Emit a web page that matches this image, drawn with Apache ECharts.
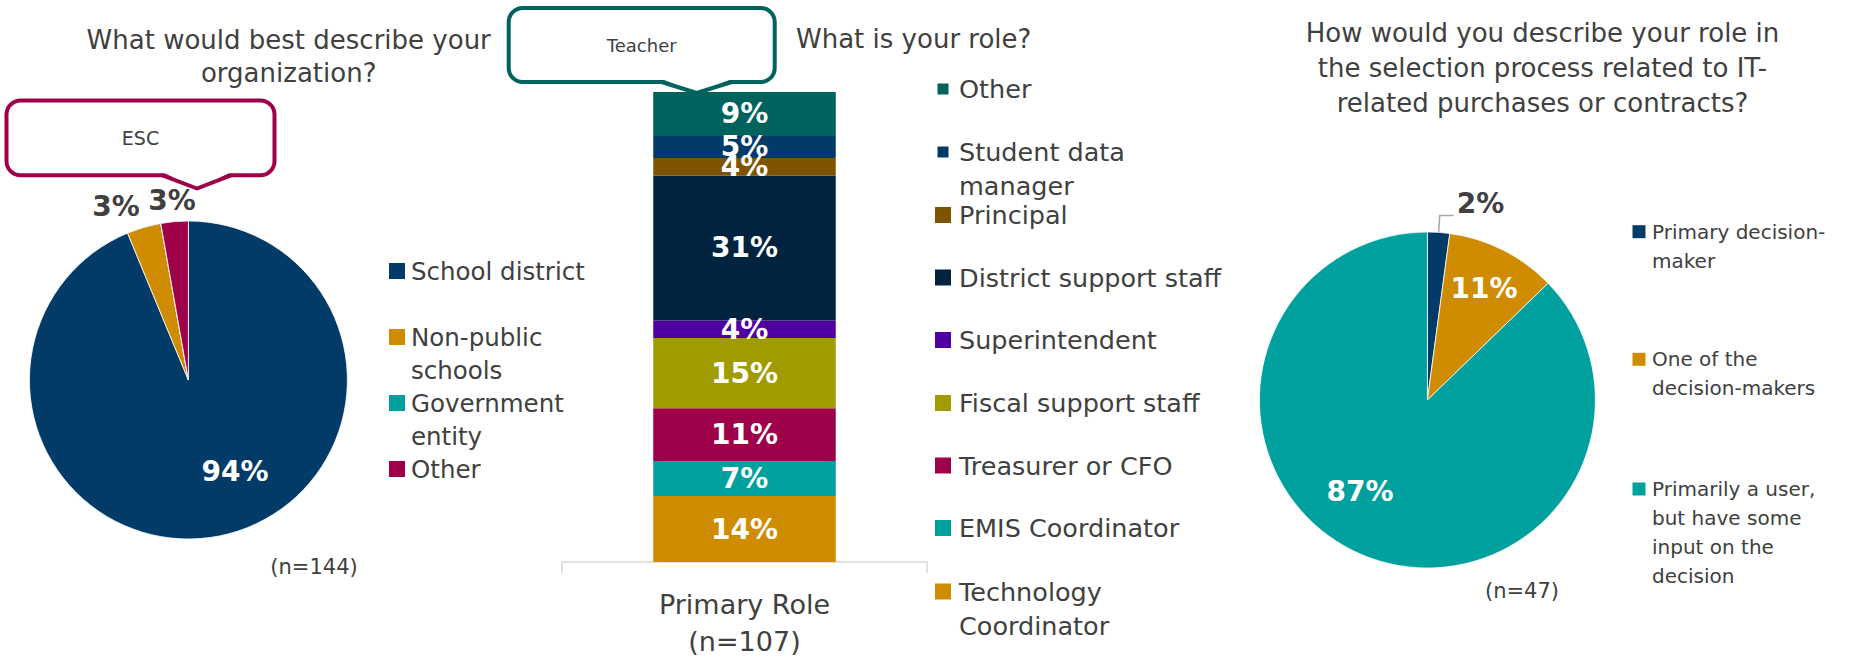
<!DOCTYPE html>
<html>
<head>
<meta charset="utf-8">
<script src="https://cdn.jsdelivr.net/npm/echarts@6/dist/echarts.min.js"></script>
<style>
  html, body { margin: 0; padding: 0; width: 1854px; height: 663px; overflow: hidden; background: #fff; }
  #chart { width: 1854px; height: 663px; }
</style>
</head>
<body>
<div id="chart"></div>
<script>
// ---- Survey responses (counts) ----
const orgTypes = ['School district', 'Non-public\nschools', 'Government\nentity', 'Other'];
const orgCounts = [135, 5, 0, 4];
const orgColors = ['#023b67', '#d08c00', '#00a09e', '#9e004a'];
const orgQuestion = 'What would best describe your\norganization?';
const orgNote = 'ESC';

const roleNames = ['Other', 'Student data\nmanager', 'Principal', 'District support staff', 'Superintendent',
  'Fiscal support staff', 'Treasurer or CFO', 'EMIS Coordinator', 'Technology\nCoordinator'];
const roleCounts = [10, 5, 4, 33, 4, 16, 12, 8, 15];
const roleColors = ['#00625c', '#023b67', '#7f5400', '#022340', '#4f00a0', '#a09c00', '#9e004a', '#00a09e', '#d08c00'];
const roleCategory = 'Primary Role';
const roleQuestion = 'What is your role?';
const roleNote = 'Teacher';

const itRoles = ['Primary decision-\nmaker', 'One of the\ndecision-makers', 'Primarily a user,\nbut have some\ninput on the\ndecision'];
const itCounts = [1, 5, 41];
const itColors = ['#023b67', '#d08c00', '#00a09e'];
const itQuestion = 'How would you describe your role in\nthe selection process related to IT-\nrelated purchases or contracts?';

// ---- shared styling ----
const FONT = '"DejaVu Sans", sans-serif';
const TEXT = '#404040';
const sum = a => a.reduce((s, v) => s + v, 0);
const pct = (v, total) => Math.round(v / total * 100) + '%';

// One legend block per entry so each marker sits beside the first line of its text.
function legendBlocks(names, colors, rows, o) {
  return names.map((name, i) => {
    const n = name.split('\n').length;
    const size = (o.sizes && o.sizes[i]) || o.size;
    const blockH = (2 * n - 1) * o.lineHeight;
    const left = o.markerCenter - size[0] / 2;
    const padLeft = Math.max(0, o.textX - (left + size[0] + 5));
    return {
      left: left,
      top: rows[i] - Math.max(blockH, size[1]) / 2,
      padding: 0,
      orient: 'vertical',
      icon: 'rect',
      selectedMode: false,
      itemWidth: size[0],
      itemHeight: size[1],
      itemStyle: { borderWidth: 0 },
      formatter: t => '\n'.repeat(n - 1) + t,
      textStyle: { fontFamily: FONT, fontSize: o.fontSize, lineHeight: o.lineHeight, color: TEXT,
                   padding: [0, 0, 0, padLeft] },
      data: [{ name: name, itemStyle: { color: colors[i] } }]
    };
  });
}

// Speech-bubble note with a downward pointer.
function callout(box, tip, color, label, fontSize) {
  const yb = box.y + box.h;
  return [
    { type: 'rect', z: 100, shape: { x: box.x, y: box.y, width: box.w, height: box.h, r: box.r },
      style: { fill: '#fff', stroke: color, lineWidth: 4 } },
    { type: 'polygon', z: 101, shape: { points: [[tip.x1, yb - 2.6], [tip.x2, yb - 2.6], [tip.tx, tip.ty]] },
      style: { fill: '#fff' } },
    { type: 'polyline', z: 102, shape: { points: [[tip.x1 - 1, yb], [tip.tx, tip.ty], [tip.x2 + 1, yb]] },
      style: { stroke: color, lineWidth: 4, lineJoin: 'round', fill: null } },
    { type: 'text', z: 103, x: box.x + box.w / 2, y: box.y + box.h / 2,
      style: { text: label, fontFamily: FONT, fontSize: fontSize, fill: TEXT,
               align: 'center', textAlign: 'center', verticalAlign: 'middle', textVerticalAlign: 'middle' } }
  ];
}

function textBlock(text, x, y, size, align, vAlign, lineHeight) {
  return { type: 'text', x: x, y: y, z: 50,
    style: { text: text, fontFamily: FONT, fontSize: size, fill: TEXT,
             lineHeight: lineHeight || Math.round(size * 1.3),
             align: align, textAlign: align, verticalAlign: vAlign, textVerticalAlign: vAlign } };
}

const orgTotal = sum(orgCounts);
const roleTotal = sum(roleCounts);
const itTotal = sum(itCounts);

// label anchor points inside / beside the pies
const orgLabelAt = [[235, 471], [116, 206], null, [172, 200]];
const itLabelAt = [null, [1484, 288], [1360, 491]];

const chart = echarts.init(document.getElementById('chart'), null, { renderer: 'svg' });
chart.setOption({
  animation: false,
  grid: { left: 562, top: 92, width: 365, height: 470, outerBoundsMode: 'none' },
  xAxis: {
    type: 'category',
    data: [roleCategory + '\n(n=' + roleTotal + ')'],
    axisLine: { lineStyle: { color: '#d9d9d9', width: 1.5 } },
    axisTick: { show: true, length: 11, lineStyle: { color: '#d9d9d9', width: 1.5 } },
    axisLabel: { fontFamily: FONT, fontSize: 27, lineHeight: 37, color: TEXT, margin: 24 }
  },
  yAxis: { type: 'value', min: 0, max: roleTotal, show: false },
  legend: [].concat(
    legendBlocks(orgTypes, orgColors, [271, 337, 403, 469],
      { markerCenter: 397, textX: 411, size: [16, 16], fontSize: 24.5, lineHeight: 33 }),
    legendBlocks(roleNames, roleColors, [89, 152, 215, 277.5, 340, 403, 465.5, 528, 591.5],
      { markerCenter: 943, textX: 959, size: [16, 16], sizes: [[11, 11], [11, 11]], fontSize: 25.5, lineHeight: 34 }),
    legendBlocks(itRoles, itColors, [231.7, 359.3, 489],
      { markerCenter: 1639, textX: 1652, size: [13, 13], fontSize: 20, lineHeight: 29 })
  ),
  series: [
    {
      // organisation type
      type: 'pie',
      center: [188.4, 380],
      radius: 159,
      startAngle: 90,
      clockwise: true,
      avoidLabelOverlap: false,
      silent: true,
      itemStyle: { borderColor: '#fff', borderWidth: 0.8 },
      label: {
        show: true, position: 'inside', fontFamily: FONT, fontSize: 28, fontWeight: 'bold',
        formatter: p => p.value ? pct(p.value, orgTotal) : ''
      },
      labelLine: { show: false },
      labelLayout: p => {
        const at = orgLabelAt[p.dataIndex];
        return at ? { x: at[0], y: at[1], align: 'center', verticalAlign: 'middle' } : {};
      },
      data: orgTypes.map((name, i) => ({
        name: name, value: orgCounts[i],
        itemStyle: { color: orgColors[i] },
        label: { color: i === 0 ? '#fff' : TEXT }
      }))
    },
    // primary role, stacked from the bottom up
    ...roleNames.map((name, i) => ({
      name: name,
      type: 'bar',
      stack: 'role',
      barWidth: '50%',
      silent: true,
      data: [roleCounts[i]],
      itemStyle: { color: roleColors[i] },
      label: {
        show: true, position: 'inside', color: '#fff', fontFamily: FONT, fontSize: 28, fontWeight: 'bold',
        formatter: () => pct(roleCounts[i], roleTotal)
      }
    })).reverse(),
    {
      // role in IT purchasing
      type: 'pie',
      center: [1427.4, 400],
      radius: 168,
      startAngle: 90,
      clockwise: true,
      avoidLabelOverlap: false,
      silent: true,
      itemStyle: { borderColor: '#fff', borderWidth: 0.8 },
      label: {
        show: true, position: 'inside', color: '#fff', fontFamily: FONT, fontSize: 28, fontWeight: 'bold',
        formatter: p => pct(p.value, itTotal)
      },
      labelLine: { show: false },
      labelLayout: p => {
        const at = itLabelAt[p.dataIndex];
        return at ? { x: at[0], y: at[1], align: 'center', verticalAlign: 'middle' } : {};
      },
      data: itRoles.map((name, i) => {
        const item = { name: name, value: itCounts[i], itemStyle: { color: itColors[i] } };
        if (i === 0) {
          item.label = { position: 'outside', color: TEXT, lineHeight: 24, distanceToLabelLine: 3,
                         formatter: p => pct(p.value, itTotal) + '\n' };
          item.labelLine = { show: true, length: 17, length2: 14, lineStyle: { color: '#a6a6a6', width: 1.5 } };
        }
        return item;
      })
    }
  ],
  graphic: [
    textBlock(orgQuestion, 288.7, 23.5, 26, 'center', 'top', 33),
    textBlock('(n=' + orgTotal + ')', 314, 567, 21, 'center', 'middle'),
    ...callout({ x: 6.5, y: 100.5, w: 268, h: 74.8, r: 14 }, { x1: 163.5, x2: 230, tx: 197, ty: 188.5 },
      '#9e004a', orgNote, 19),
    textBlock(roleQuestion, 796, 39, 26, 'left', 'middle'),
    ...callout({ x: 508.7, y: 8, w: 266, h: 74, r: 14 }, { x1: 662.7, x2: 730.7, tx: 696.7, ty: 93 },
      '#00625c', roleNote, 18),
    textBlock(itQuestion, 1542.5, 15.8, 26, 'center', 'top', 35),
    textBlock('(n=' + itTotal + ')', 1522, 591, 21, 'center', 'middle')
  ]
});
</script>
</body>
</html>
